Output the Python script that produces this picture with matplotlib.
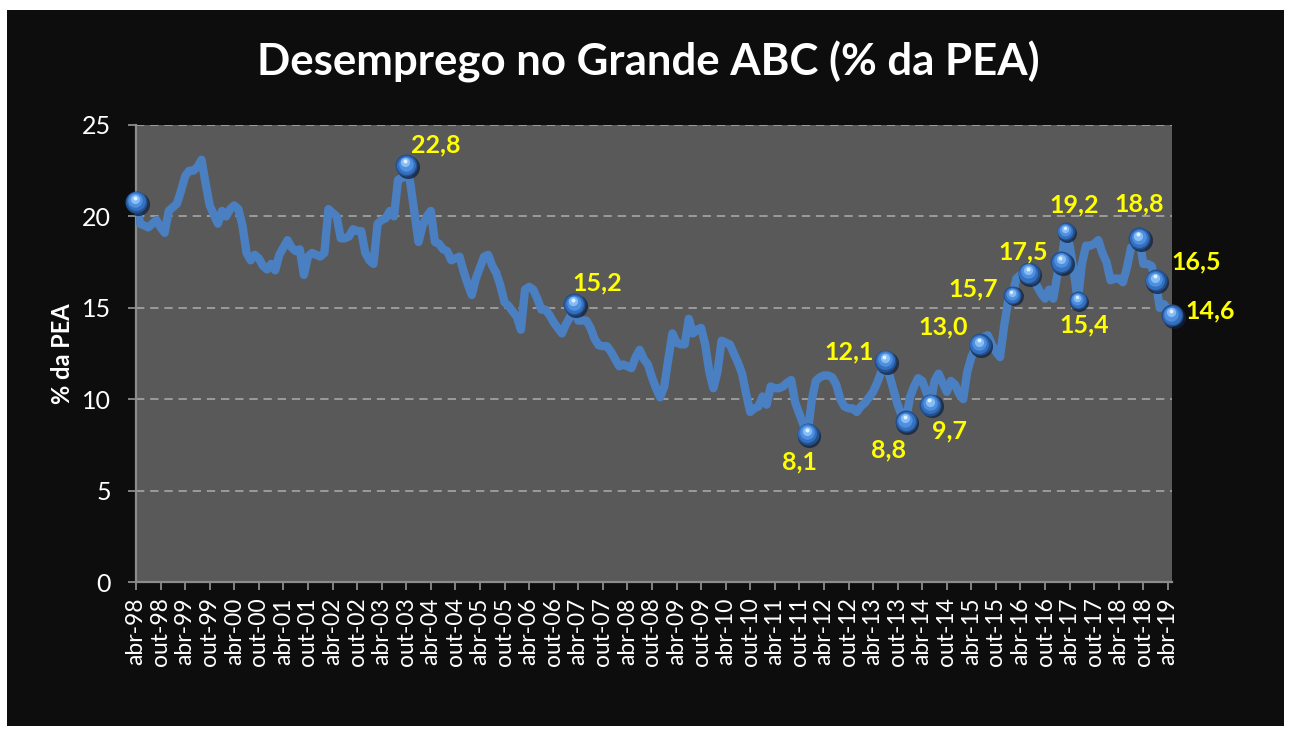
import matplotlib
matplotlib.use("Agg")
import matplotlib.pyplot as plt
from matplotlib.patches import Rectangle
from matplotlib.transforms import offset_copy
import numpy as np

# ---------------- data (monthly, abr-98 ... mai-19) ----------------
values = [
    20.8, 19.6, 19.5, 19.4, 19.6, 19.8, 19.4, 19.1, 20.3, 20.5, 20.7, 21.4,
    22.2, 22.5, 22.5, 22.7, 23.1, 21.8, 20.6, 20.1, 19.6, 20.3, 20.0, 20.4,
    20.6, 20.4, 19.5, 18.0, 17.6, 17.9, 17.7, 17.3, 17.1, 17.4, 17.05, 17.9,
    18.3, 18.7, 18.3, 18.1, 18.2, 16.8, 17.8, 18.0, 17.9, 17.8, 18.0, 20.4,
    20.2, 20.0, 18.8, 18.8, 18.9, 19.3, 19.2, 19.2, 18.0, 17.6, 17.4, 19.6,
    19.8, 19.9, 20.3, 20.0, 22.0, 22.1, 22.8, 21.8, 20.2, 18.6, 19.5, 20.0,
    20.3, 18.6, 18.5, 18.2, 18.1, 17.6, 17.7, 17.8, 17.0, 16.3, 15.7, 16.6,
    17.2, 17.8, 17.9, 17.3, 16.9, 16.2, 15.3, 15.1, 14.8, 14.5, 13.8, 16.0,
    16.15, 16.0, 15.5, 14.9, 14.9, 14.6, 14.2, 13.9, 13.6, 14.1, 14.5, 15.2,
    14.3, 14.3, 14.3, 13.9, 13.3, 12.95, 12.9, 12.9, 12.6, 12.2, 11.8, 11.9,
    11.8, 11.7, 12.3, 12.7, 12.2, 11.9, 11.2, 10.6, 10.1, 10.7, 12.2, 13.6,
    13.1, 13.0, 13.0, 14.4, 13.6, 13.8, 13.9, 13.0, 11.5, 10.6, 11.5, 13.2,
    13.1, 13.0, 12.5, 12.0, 11.4, 10.3, 9.3, 9.5, 9.6, 10.15, 9.7, 10.7,
    10.6, 10.6, 10.7, 10.9, 11.05, 9.8, 9.2, 8.6, 8.1, 9.9, 11.0, 11.2,
    11.3, 11.3, 11.2, 10.8, 10.0, 9.6, 9.5, 9.5, 9.3, 9.6, 9.8, 10.1,
    10.4, 10.9, 11.5, 12.1, 11.3, 10.5, 9.7, 9.1, 8.8, 10.1, 10.7, 11.15,
    11.0, 10.4, 9.7, 11.0, 11.4, 10.9, 10.4, 11.0, 10.8, 10.3, 10.0, 11.5,
    12.3, 12.8, 13.0, 13.4, 13.5, 13.0, 12.6, 12.3, 14.0, 15.4, 15.7, 16.6,
    16.8, 16.8, 16.9, 16.6, 16.2, 15.8, 15.5, 16.0, 15.5, 16.8, 17.5, 19.2,
    18.4, 17.0, 15.4, 17.4, 18.4, 18.4, 18.5, 18.7, 18.0, 17.5, 16.5, 16.6,
    16.6, 16.4, 17.2, 18.3, 18.4, 18.8, 17.4, 17.4, 17.3, 16.5, 15.0, 15.2,
    14.9, 14.6,
]

# highlighted points (month index), their label text and marker size class
marker_idx = [0, 66, 107, 164, 183, 188, 194, 206, 214, 218, 226, 227, 230, 245, 249, 253]
marker_lbl = ['', '22,8', '15,2', '8,1', '12,1', '8,8', '9,7', '13,0', '15,7',
              '17,5', '', '19,2', '15,4', '18,8', '16,5', '14,6']
marker_big = [1, 1, 1, 1, 1, 1, 1, 1, 0, 1, 1, 0, 0, 1, 1, 1]
# label offsets in pixels (dx, dy)
lbl_off = [(0, 0), (29, 20), (23, 21), (-8, -28), (-36, 9), (-17, -29), (19, -26),
           (-36, 17), (-39, 6), (-5, 21), (0, 0), (9, 26), (6, -24), (0, 34),
           (41, 18), (38, 4)]

month_names = ['abr', 'out']
tick_pos = list(range(0, len(values), 6))
tick_labels = [f"{month_names[i % 2]}-{(98 + i // 2) % 100:02d}" for i in range(len(tick_pos))]

title = "Desemprego no Grande ABC (% da PEA)"
ylabel = "% da PEA"

# ---------------- figure ----------------
W, H = 1290, 729
fig = plt.figure(figsize=(W / 100, H / 100), dpi=100)
fig.patch.set_facecolor('white')
fig.patches.append(Rectangle((7 / W, 1 - 726 / H), (1284 - 7) / W, (726 - 10) / H,
                             transform=fig.transFigure, facecolor='#0d0d0d',
                             edgecolor='none', zorder=-10))

FONT = 'Lato'
ax = fig.add_axes([136 / W, 1 - 582 / H, (1172 - 136) / W, (582 - 125) / H])
ax.set_facecolor('#595959')

x = np.arange(len(values))
ax.plot(x, values, color='#4a7fc1', lw=6.0, solid_joinstyle='round',
        solid_capstyle='round', zorder=3)

ax.set_xlim(0, len(values) - 1)
ax.set_ylim(0, 25)
ax.set_yticks([0, 5, 10, 15, 20, 25])
ax.set_xticks(tick_pos)
ax.set_xticklabels(tick_labels, rotation=90, fontsize=16.5, color='white', family=FONT)
for t in ax.get_yticklabels():
    t.set_fontsize(18)
    t.set_color('white')
    t.set_family(FONT)

ax.yaxis.grid(True, color='#a6a6a6', linestyle=(0, (5, 3.5)), lw=1.2, zorder=1)
ax.set_axisbelow(True)
for s in ['top', 'right']:
    ax.spines[s].set_visible(False)
for s in ['left', 'bottom']:
    ax.spines[s].set_color('#8c8c8c')
    ax.spines[s].set_linewidth(1.6)
ax.tick_params(axis='both', direction='out', length=6, width=1.3, color='#8c8c8c')
ax.tick_params(axis='y', pad=12)
ax.tick_params(axis='x', pad=5)

ax.set_ylabel(ylabel, fontsize=17, fontweight='bold', color='white', family=FONT, labelpad=6)

# ---------------- sphere markers ----------------
layers = [
    # (size factor, color, dx, dy, alpha)
    (1.05, '#10213d', 1.5, -1.8, 0.75),
    (1.00, '#23508f', 0.0, 0.0, 1.0),
    (0.86, '#3470c0', -0.3, 0.5, 1.0),
    (0.66, '#4f8fde', -0.6, 1.6, 1.0),
    (0.42, '#86bdf6', -0.8, 2.8, 1.0),
    (0.18, '#e8f4ff', -1.0, 4.2, 0.95),
]
for i, big in zip(marker_idx, marker_big):
    D = (22 if big else 18) * 0.72  # diameter in points
    for k, (f, col, dx, dy, al) in enumerate(layers):
        tr = offset_copy(ax.transData, fig=fig, x=dx * (D / 15.8), y=dy * (D / 15.8), units='dots')
        ax.plot([x[i]], [values[i]], marker='o', ms=D * f, color=col, mec='none',
                alpha=al, transform=tr, zorder=5 + k, clip_on=False)

for i, txt, (dx, dy) in zip(marker_idx, marker_lbl, lbl_off):
    if not txt:
        continue
    ax.annotate(txt, (x[i], values[i]), xytext=(dx, dy), textcoords='offset pixels',
                ha='center', va='center', fontsize=18, fontweight='bold',
                color='#ffff00', family=FONT, zorder=20, annotation_clip=False)

fig.text(648 / W, 1 - 62 / H, title, ha='center', va='center', fontsize=31.5,
         fontweight='bold', color='white', family=FONT)

fig.savefig('out.png', dpi=100, facecolor=fig.get_facecolor())
